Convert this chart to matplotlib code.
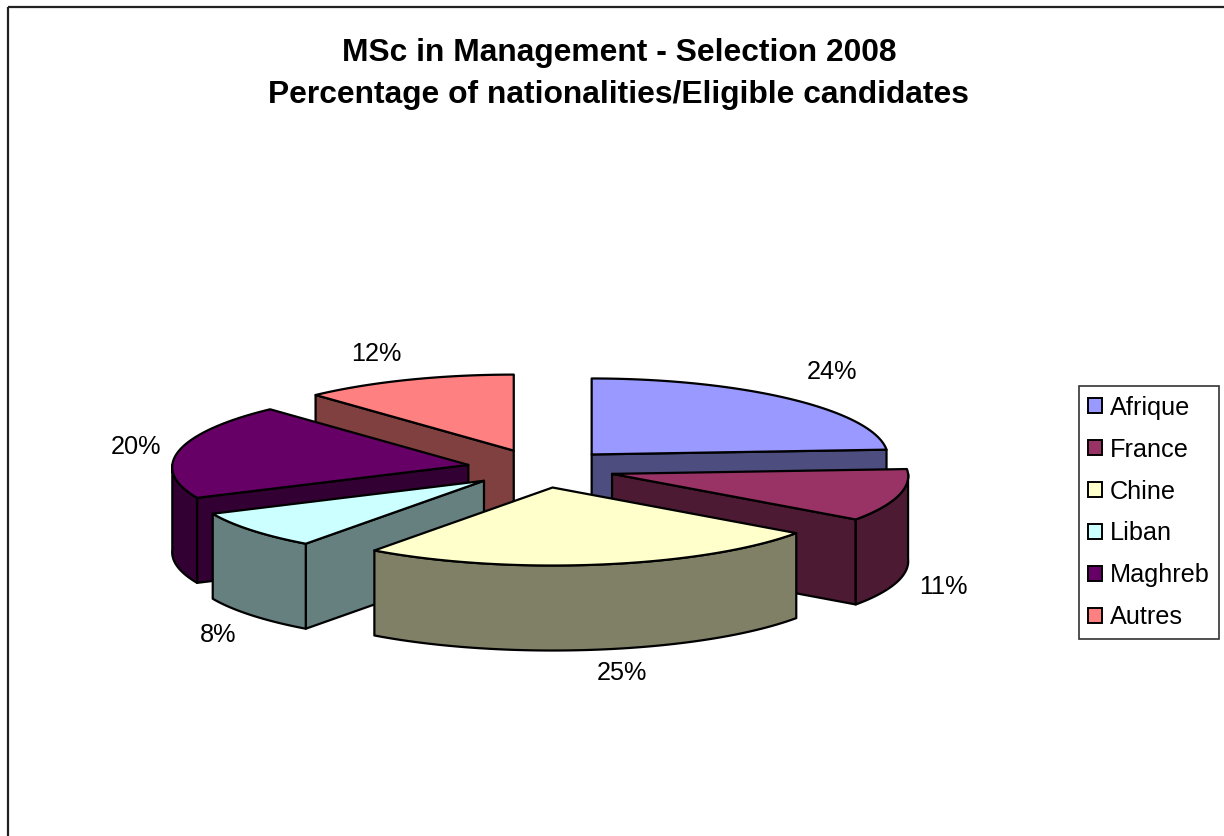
import numpy as np
import matplotlib
matplotlib.use('Agg')
import matplotlib.pyplot as plt
from matplotlib.patches import Polygon, Patch

plt.rcParams['font.family'] = ['Liberation Sans', 'DejaVu Sans']

##-----------DATA-----------##
title_lines = ['MSc in Management - Selection 2008', 'Percentage of nationalities/Eligible candidates']
nations = ['Afrique', 'France', 'Chine', 'Liban', 'Maghreb', 'Autres']
shares = [24, 11, 25, 8, 20, 12]
tops = ['#9999FF', '#993366', '#FFFFCC', '#CCFFFF', '#660066', '#FF8080']
sides = ['#4D4D80', '#4D1A33', '#808066', '#668080', '#330033', '#804040']
label_pos = [(832, 372), (943, 587), (622, 673), (218, 635), (136, 447), (376, 354)]

##-----------PIE GEOMETRY (pixels)-----------##
cx, cy = 541, 468.5
rx, ry = 296, 77
depth = 85
explode = 0.25
persp_x, persp_y = 0.03, 0.013 #front of the pie is a bit bigger than the back

def rim(center, a0, a1, n=60):
	#clockwise angles from 12 o'clock, y axis points down
	t = np.radians(np.linspace(a0, a1, n))
	return np.column_stack([center[0] + rx*np.sin(t)*(1 - persp_x*np.cos(t)),
							center[1] - ry*np.cos(t)*(1 - persp_y*np.cos(t))])

def drop(pts):
	return pts + [0, depth]

def face(ax, pts, color):
	ax.add_patch(Polygon(pts, closed=True, facecolor=color, edgecolor='black', lw=1.6, joinstyle='round'))

fig = plt.figure(figsize=(12.24, 8.36), dpi=100)
ax = fig.add_axes([0, 0, 1, 1])
ax.set_xlim(0, 1224); ax.set_ylim(836, 0)
ax.axis('off')

##-----------SLICES-----------##
ends = np.cumsum(shares)*3.6
starts = ends - np.array(shares)*3.6
slices = []
for i in range(len(shares)):
	mid = np.radians((starts[i] + ends[i])/2)
	apex = np.array([cx + explode*rx*np.sin(mid), cy - explode*ry*np.cos(mid)])
	slices.append((apex, starts[i], ends[i], tops[i], sides[i]))

#back to front
for apex, a0, a1, top, side in sorted(slices, key=lambda s: s[0][1]):
	outline = np.vstack([[apex], rim(apex, a0, a1)])
	#cut faces that look at the viewer
	if a0 > 180:
		edge = np.vstack([[apex], rim(apex, a0, a0, 1)])
		face(ax, np.vstack([edge, drop(edge)[::-1]]), side)
	if a1 < 180:
		edge = np.vstack([[apex], rim(apex, a1, a1, 1)])
		face(ax, np.vstack([edge, drop(edge)[::-1]]), side)
	#outer wall, front half only
	f0, f1 = max(a0, 90), min(a1, 270)
	if f1 > f0:
		arc = rim(apex, f0, f1)
		face(ax, np.vstack([arc, drop(arc)[::-1]]), side)
	face(ax, outline, top)

##-----------TEXT-----------##
for s, (x, y) in zip(shares, label_pos):
	ax.text(x, y, '%d%%' % s, fontsize=18.2, ha='center', va='center', color='black')
ax.text(619, 53, title_lines[0], fontsize=22.85, fontweight='bold', ha='center', va='center')
ax.text(618, 95, title_lines[1], fontsize=22.85, fontweight='bold', ha='center', va='center')

##-----------CHART BORDER-----------##
ax.plot([8, 8], [836, 7], color='#222222', lw=1.6, solid_capstyle='butt')
ax.plot([8, 1224], [7, 7], color='#222222', lw=1.6, solid_capstyle='butt')

##-----------LEGEND-----------##
handles = [Patch(facecolor=c, edgecolor='black', lw=1.4) for c in tops]
leg = ax.legend(handles, nations, loc='center', bbox_to_anchor=(1149, 512.5), bbox_transform=ax.transData,
	fontsize=18.2, handlelength=0.55, handleheight=0.55, handletextpad=0.3, labelspacing=0.71,
	borderpad=0.38, borderaxespad=0, fancybox=False, framealpha=1, edgecolor='#333333')
leg.get_frame().set_linewidth(1.2)

fig.savefig('out.png', dpi=100, facecolor='white')
